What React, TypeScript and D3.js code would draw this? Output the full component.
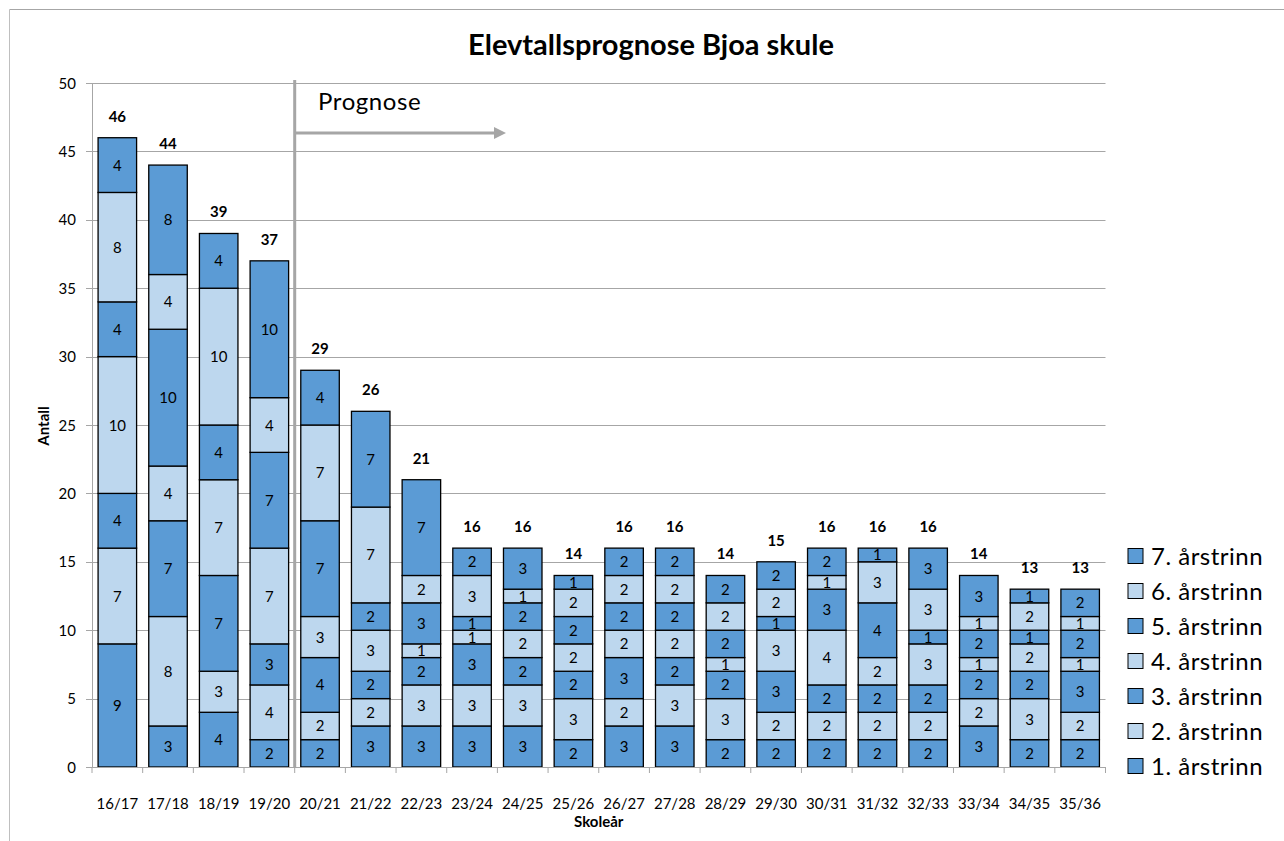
import React from "react";
import * as d3 from "d3";

const categories = ["16/17","17/18","18/19","19/20","20/21","21/22","22/23","23/24","24/25","25/26","26/27","27/28","28/29","29/30","30/31","31/32","32/33","33/34","34/35","35/36"];
const seriesNames = ["1. årstrinn","2. årstrinn","3. årstrinn","4. årstrinn","5. årstrinn","6. årstrinn","7. årstrinn"];
const trinn1 = [9,3,4,2,2,3,3,3,3,2,3,3,2,2,2,2,2,3,2,2];
const trinn2 = [7,8,3,4,2,2,3,3,3,3,2,3,3,2,2,2,2,2,3,2];
const trinn3 = [4,7,7,3,4,2,2,3,2,2,3,2,2,3,2,2,2,2,2,3];
const trinn4 = [10,4,7,7,3,3,1,1,2,2,2,2,1,3,4,2,3,1,2,1];
const trinn5 = [4,10,4,7,7,2,3,1,2,2,2,2,2,1,3,4,1,2,1,2];
const trinn6 = [8,4,10,4,7,7,2,3,1,2,2,2,2,2,1,3,3,1,2,1];
const trinn7 = [4,8,4,10,4,7,7,2,3,1,2,2,2,2,2,1,3,3,1,2];
const yTicks = [0,5,10,15,20,25,30,35,40,45,50];
const seriesValues = [trinn1,trinn2,trinn3,trinn4,trinn5,trinn6,trinn7];
const colors = ["#5B9BD5","#BDD7EE","#5B9BD5","#BDD7EE","#5B9BD5","#BDD7EE","#5B9BD5"];

const FONT = "Lato, 'Open Sans', sans-serif";

export default function App() {
  const W = 1284, H = 841;
  const left = 92, right = 1105.5, top = 83, bottom = 767;
  const x = d3.scaleBand<string>().domain(categories).range([left, right]).paddingInner(0.24).paddingOuter(0.12);
  const y = d3.scaleLinear().domain([0, 50]).range([bottom, top]);

  const rows = categories.map((c, i) => {
    const r: any = { cat: c };
    seriesNames.forEach((s, k) => (r[s] = seriesValues[k][i]));
    return r;
  });
  const stack = d3.stack<any>().keys(seriesNames)(rows);
  const totals = categories.map((_, i) => seriesValues.reduce((a, s) => a + s[i], 0));

  const step = x.step();
  const tickXs = d3.range(categories.length + 1).map(i => left + i * step);
  const progX = left + 4 * step;

  return (
    <svg width={W} height={H} style={{ position: "absolute", left: 0, top: 0, background: "#fff" }} fontFamily={FONT}>
      <rect x={0} y={0} width={W} height={H} fill="#fff" />
      {/* outer border */}
      <line x1={9.5} y1={9.5} x2={W} y2={9.5} stroke="#A6A6A6" />
      <line x1={9.5} y1={9.5} x2={9.5} y2={H} stroke="#BFBFBF" />
      <text x={651} y={55} textAnchor="middle" fontSize={29} fontWeight="bold" fill="#000">Elevtallsprognose Bjoa skule</text>

      {/* gridlines */}
      {yTicks.map(t => (
        <g key={t}>
          {t > 0 && <line x1={left} x2={right} y1={Math.round(y(t)) + 0.5} y2={Math.round(y(t)) + 0.5} stroke="#A6A6A6" />}
          <line x1={left - 6} x2={left} y1={Math.round(y(t)) + 0.5} y2={Math.round(y(t)) + 0.5} stroke="#A6A6A6" />
          <text x={left - 16} y={y(t) + 5.5} textAnchor="end" fontSize={15} fill="#000">{t}</text>
        </g>
      ))}
      <line x1={left + 0.5} x2={left + 0.5} y1={top} y2={bottom} stroke="#A6A6A6" />

      {/* bars */}
      {stack.map((layer, k) => (
        <g key={k}>
          {layer.map((d, i) => {
            const v = d[1] - d[0];
            if (v <= 0) return null;
            const bx = x(categories[i])!;
            const y0 = y(d[0]), y1 = y(d[1]);
            return (
              <g key={i}>
                <rect x={bx} y={y1} width={x.bandwidth()} height={y0 - y1} fill={colors[k]} stroke="#000" strokeWidth={1.3} />
                <text x={bx + x.bandwidth() / 2} y={(y0 + y1) / 2 + 5.5} textAnchor="middle" fontSize={15} fill="#000">{v}</text>
              </g>
            );
          })}
        </g>
      ))}

      {/* totals */}
      {totals.map((t, i) => (
        <text key={i} x={x(categories[i])! + x.bandwidth() / 2} y={y(t) - 16} textAnchor="middle" fontSize={15} fontWeight="bold" fill="#000">{t}</text>
      ))}

      {/* x axis */}
      <line x1={left} x2={right} y1={bottom + 0.5} y2={bottom + 0.5} stroke="#A6A6A6" />
      {tickXs.map((tx, i) => (
        <line key={i} x1={tx} x2={tx} y1={bottom} y2={bottom + 6} stroke="#A6A6A6" />
      ))}
      {categories.map(c => (
        <text key={c} x={x(c)! + x.bandwidth() / 2} y={809} textAnchor="middle" fontSize={15} fill="#000">{c}</text>
      ))}
      <text x={(left + right) / 2} y={827} textAnchor="middle" fontSize={15} fontWeight="bold" fill="#000">Skoleår</text>
      <text transform={`translate(49, 426) rotate(-90)`} textAnchor="middle" fontSize={15} fontWeight="bold" fill="#000">Antall</text>

      {/* prognose */}
      <line x1={progX} x2={progX} y1={80} y2={bottom} stroke="#A6A6A6" strokeWidth={3} />
      <line x1={progX} x2={495} y1={133} y2={133} stroke="#A6A6A6" strokeWidth={3} />
      <path d={`M494,127 L506,133 L494,139 Z`} fill="#A6A6A6" />
      <text x={318} y={110} fontSize={24} letterSpacing={0.6} fill="#000">Prognose</text>

      {/* legend */}
      {seriesNames.slice().reverse().map((s, j) => {
        const k = seriesNames.length - 1 - j;
        const cy = 556 + j * 35;
        return (
          <g key={s}>
            <rect x={1128} y={cy - 7.5} width={15} height={15} fill={colors[k]} stroke="#000" strokeWidth={1} />
            <text x={1151} y={cy + 8.5} fontSize={24} letterSpacing={0.5} fill="#000">{s}</text>
          </g>
        );
      })}
    </svg>
  );
}
